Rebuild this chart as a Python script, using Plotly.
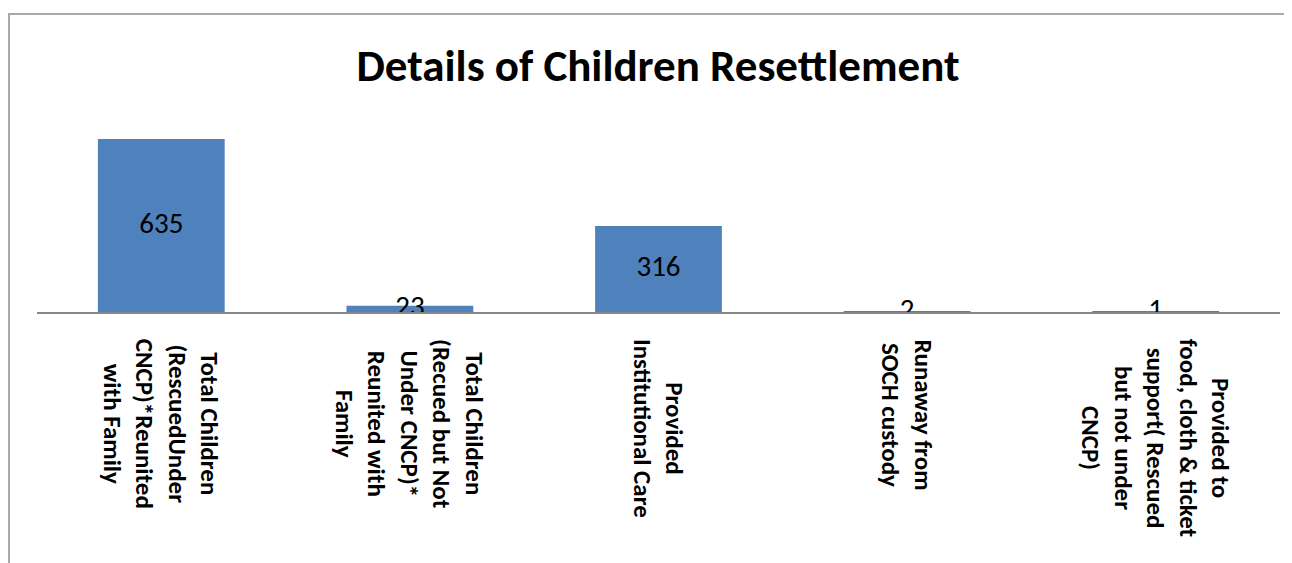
import plotly.graph_objects as go

categories = [
    "Total Children<br>(RescuedUnder<br>CNCP)*Reunited<br>with Family",
    "Total Children<br>(Recued but Not<br>Under CNCP)*<br>Reunited with<br>Family",
    "Provided<br>Institutional Care",
    "Runaway from<br>SOCH custody",
    "Provided to<br>food, cloth & ticket<br>support( Rescued<br>but not under<br>CNCP)",
]
values = [635, 23, 316, 2, 1]
title_text = "Details of Children Resettlement"

FONT = "Carlito, Calibri, Lato, sans-serif"
W, H = 1292, 563
OFF = 8  # page body margin
L, R, T, B = 37 - OFF, 12 + OFF, 120 - OFF, 251 + OFF
pw, ph = W - L - R, H - T - B

fig = go.Figure()
fig.add_trace(go.Bar(
    x=categories, y=values,
    marker=dict(color="#4F81BD", line=dict(width=0)),
    hoverinfo="skip", showlegend=False,
))
fig.add_trace(go.Scatter(
    x=categories, y=[v / 2 for v in values],
    mode="text", text=[str(v) for v in values],
    textposition="middle center",
    textfont=dict(family=FONT, size=29, color="#000000"),
    hoverinfo="skip", showlegend=False,
))

for c in categories:
    fig.add_annotation(
        x=c, y=0, xref="x", yref="y",
        text="<b>" + c + "</b>", showarrow=False,
        textangle=90, align="center",
        xanchor="center", yanchor="top", yshift=-25,
        font=dict(family=FONT, size=25, color="#000000"),
    )

def px_x(p):
    return (p - OFF - L) / pw

def px_y(p):
    return (H - B - (p - OFF)) / ph

fig.add_shape(
    type="rect", xref="paper", yref="paper",
    x0=px_x(9), x1=px_x(W + 20), y0=px_y(H + 20), y1=px_y(14),
    line=dict(color="#AAAAAA", width=2), fillcolor="rgba(0,0,0,0)",
    layer="below",
)

fig.update_layout(
    width=W, height=H,
    margin=dict(l=L, r=R, t=T, b=B),
    paper_bgcolor="white", plot_bgcolor="white",
    bargap=0.49,
    title=dict(
        text="<b>" + title_text + "</b>",
        x=(658 - OFF) / W, xanchor="center",
        y=1 - (65 - OFF) / H, yanchor="middle",
        font=dict(family=FONT, size=45, color="#000000"),
    ),
    xaxis=dict(
        showticklabels=False, ticks="", showgrid=False, zeroline=False,
        showline=True, linecolor="#888888", linewidth=2,
        fixedrange=True,
    ),
    yaxis=dict(
        range=[0, 705], visible=False, showgrid=False, zeroline=False,
        fixedrange=True,
    ),
)

fig.write_html("out.html")
